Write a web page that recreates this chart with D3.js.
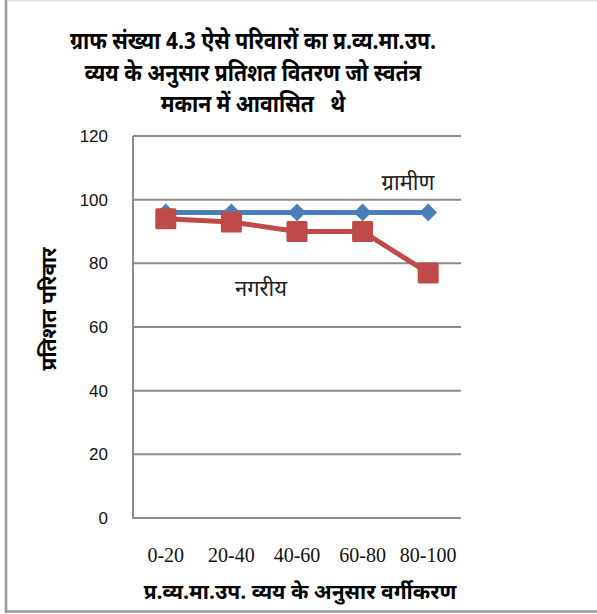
<!DOCTYPE html>
<html>
<head>
<meta charset="utf-8">
<script src="https://cdn.jsdelivr.net/npm/d3@7"></script>
<style>
  body { margin: 0; background: #fff; }
  svg text { font-family: "Noto Sans Devanagari", "Lohit Devanagari", "FreeSans", "Noto Sans", sans-serif; }
</style>
</head>
<body>
<script>
var categories = ["0-20", "20-40", "40-60", "60-80", "80-100"];
var rural = [96, 96, 96, 96, 96];
var urban = [94, 93, 90, 90, 77];
var yTicks = [0, 20, 40, 60, 80, 100, 120];
var titleLines = ["ग्राफ संख्या 4.3 ऐसे परिवारों का प्र.व्य.मा.उप.", "व्यय के अनुसार प्रतिशत वितरण जो स्वतंत्र", "मकान में आवासित   थे"];

var W = 597, H = 614;
var svg = d3.select("body").append("svg")
    .attr("width", W)
    .attr("height", H);

// outer frame
svg.append("line").attr("x1", 8).attr("x2", W).attr("y1", 0.5).attr("y2", 0.5)
    .attr("stroke", "#e3e3e3").attr("stroke-width", 1.5);
svg.append("line").attr("x1", 6).attr("x2", 6).attr("y1", 0).attr("y2", 613)
    .attr("stroke", "#999").attr("stroke-width", 2.5);
svg.append("line").attr("x1", 5).attr("x2", W).attr("y1", 611.5).attr("y2", 611.5)
    .attr("stroke", "#999").attr("stroke-width", 2.5);

var x = d3.scaleBand().domain(categories).range([133, 461]);
var y = d3.scaleLinear().domain([0, 120]).range([518, 136]);

// gridlines
svg.append("g").selectAll("line")
    .data(yTicks)
    .enter().append("line")
    .attr("x1", 133).attr("x2", 461)
    .attr("y1", function(d){ return y(d); })
    .attr("y2", function(d){ return y(d); })
    .attr("stroke", "#8c8c8c")
    .attr("stroke-width", 2);

svg.append("line").attr("x1", 133).attr("x2", 133).attr("y1", y(120)).attr("y2", y(0) + 1)
    .attr("stroke", "#8c8c8c").attr("stroke-width", 2);

// y tick labels
svg.append("g").selectAll("text")
    .data(yTicks)
    .enter().append("text")
    .attr("x", 108)
    .attr("y", function(d){ return y(d); })
    .attr("dy", "0.35em")
    .attr("text-anchor", "end")
    .style("font-family", "'Liberation Sans', Arial, sans-serif")
    .style("font-size", "17px")
    .attr("fill", "#111")
    .text(function(d){ return d; });

// x tick labels
svg.append("g").selectAll("text")
    .data(categories)
    .enter().append("text")
    .attr("x", function(d){ return x(d) + x.bandwidth() / 2; })
    .attr("y", 562)
    .attr("text-anchor", "middle")
    .style("font-family", "'Liberation Serif', 'Times New Roman', 'DejaVu Serif', serif")
    .style("font-size", "20px")
    .attr("fill", "#111")
    .text(function(d){ return d; });

var cx = function(d, i){ return x(categories[i]) + x.bandwidth() / 2; };

var line = d3.line()
    .x(function(d, i){ return cx(d, i); })
    .y(function(d){ return y(d); });

// rural line
svg.append("path").datum(rural)
    .attr("d", line)
    .attr("fill", "none")
    .attr("stroke", "#4a7ebb")
    .attr("stroke-width", 5);

svg.append("g").selectAll("path")
    .data(rural)
    .enter().append("path")
    .attr("d", d3.symbol().type(d3.symbolDiamond2).size(200))
    .attr("transform", function(d, i){ return "translate(" + cx(d, i) + "," + y(d) + ")"; })
    .attr("fill", "#4a7ebb");

// urban line
svg.append("path").datum(urban)
    .attr("d", line)
    .attr("fill", "none")
    .attr("stroke", "#be4b48")
    .attr("stroke-width", 5);

svg.append("g").selectAll("rect")
    .data(urban)
    .enter().append("rect")
    .attr("x", function(d, i){ return cx(d, i) - 10.5; })
    .attr("y", function(d){ return y(d) - 10.5; })
    .attr("width", 21)
    .attr("height", 21)
    .attr("rx", 1.5)
    .attr("fill", "#be4b48");

// series labels
svg.append("text").attr("x", 408).attr("y", 190).attr("text-anchor", "middle")
    .style("font-size", "22px").attr("fill", "#222").text("ग्रामीण");
svg.append("text").attr("x", 261).attr("y", 296).attr("text-anchor", "middle")
    .style("font-size", "22px").attr("fill", "#222").text("नगरीय");

// title (condensed like the original)
svg.append("g").selectAll("text")
    .data(titleLines)
    .enter().append("text")
    .attr("transform", function(d, i){ return "translate(253," + (49 + i * 31.5) + ") scale(0.88,1)"; })
    .attr("text-anchor", "middle")
    .style("font-size", "24px")
    .style("font-weight", "bold")
    .style("white-space", "pre")
    .attr("fill", "#000")
    .text(function(d){ return d; });

// axis titles
svg.append("text")
    .attr("transform", "translate(56,309) rotate(-90)")
    .attr("text-anchor", "middle")
    .style("font-size", "21px")
    .style("font-weight", "bold")
    .attr("fill", "#000")
    .text("प्रतिशत परिवार");

svg.append("text")
    .attr("x", 300).attr("y", 599)
    .attr("text-anchor", "middle")
    .style("font-size", "21px")
    .style("font-weight", "bold")
    .attr("fill", "#000")
    .text("प्र.व्य.मा.उप. व्यय के अनुसार वर्गीकरण");
</script>
</body>
</html>
